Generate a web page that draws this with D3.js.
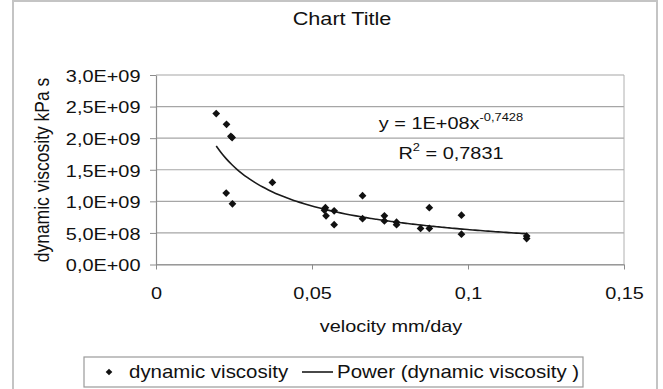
<!DOCTYPE html>
<html>
<head>
<meta charset="utf-8">
<script src="https://cdn.jsdelivr.net/npm/d3@7"></script>
<style>
body { margin: 0; background: #fff; }
text { font-family: "Liberation Sans", Arial, sans-serif; fill: #111; }
</style>
</head>
<body>
<div id="chart"></div>
<script>
// measured values (velocity mm/day, dynamic viscosity kPa s)
var velocity  = [0.0193, 0.0226, 0.0244, 0.0240, 0.0225, 0.0245, 0.0373, 0.0543, 0.0540, 0.0545,
                 0.0571, 0.0571, 0.0662, 0.0662, 0.0732, 0.0732, 0.0771, 0.0771, 0.0848, 0.0876,
                 0.0876, 0.0979, 0.0979, 0.1188, 0.1188];
var viscosity = [2.39e9, 2.22e9, 2.01e9, 2.03e9, 1.13e9, 0.96e9, 1.30e9, 0.90e9, 0.86e9, 0.77e9,
                 0.85e9, 0.63e9, 1.09e9, 0.725e9, 0.77e9, 0.69e9, 0.67e9, 0.63e9, 0.57e9, 0.90e9,
                 0.57e9, 0.78e9, 0.48e9, 0.45e9, 0.41e9];

// power trendline as printed on the chart
var trendCoef = 1e8, trendExp = -0.7428, trendR2 = "0,7831";

var xTicks = [0, 0.05, 0.1, 0.15];
var xTickLabels = ["0", "0,05", "0,1", "0,15"];
var yTicks = [0, 5e8, 1e9, 1.5e9, 2e9, 2.5e9, 3e9];
var yTickLabels = ["0,0E+00", "5,0E+08", "1,0E+09", "1,5E+09", "2,0E+09", "2,5E+09", "3,0E+09"];

var W = 663, H = 389;
var SX = 1.17; // the source picture is stretched sideways
var plot = {left: 156, right: 624, top: 75, bottom: 264.5};

var x = d3.scaleLinear().domain([0, 0.15]).range([plot.left, plot.right]);
var y = d3.scaleLinear().domain([0, 3e9]).range([plot.bottom, plot.top]);

var svg = d3.select("#chart").append("svg")
    .attr("width", W)
    .attr("height", H);

svg.append("rect")
    .attr("x", 13).attr("y", 1)
    .attr("width", 644).attr("height", 392)
    .attr("fill", "#fff")
    .attr("stroke", "#c4c4c4")
    .attr("stroke-width", 2);

function stext(x0, y0, str, size, anchor) {
  return svg.append("text")
      .attr("transform", "translate(" + x0 + "," + y0 + ") scale(" + SX + ",1)")
      .attr("font-size", size)
      .attr("text-anchor", anchor || "start")
      .text(str);
}

// title
stext(342, 25, "Chart Title", 18.5, "middle");

// gridlines
svg.append("g").selectAll("line")
    .data(yTicks)
  .enter().append("line")
    .attr("x1", plot.left).attr("x2", plot.right)
    .attr("y1", function(d) { return y(d); })
    .attr("y2", function(d) { return y(d); })
    .attr("stroke", "#a6a6a6")
    .attr("stroke-width", 1.2);

svg.append("line")
    .attr("x1", plot.right).attr("x2", plot.right)
    .attr("y1", plot.top).attr("y2", plot.bottom)
    .attr("stroke", "#b0b0b0");

var yAxis = d3.axisLeft(y)
    .tickValues(yTicks)
    .tickSize(6)
    .tickSizeOuter(0)
    .tickFormat(function(d, i) { return yTickLabels[i]; });

var gy = svg.append("g")
    .attr("transform", "translate(" + plot.left + ",0)")
    .call(yAxis);
gy.select(".domain").attr("stroke", "#8c8c8c").attr("stroke-width", 1.2);
gy.selectAll(".tick line").attr("stroke", "#8c8c8c");
gy.selectAll(".tick text")
    .attr("x", -15.5 / SX)
    .attr("dy", "0.37em")
    .attr("transform", "scale(" + SX + ",1)")
    .attr("font-size", 17)
    .attr("font-family", null)
    .attr("fill", "#111");

var xAxis = d3.axisBottom(x)
    .tickValues(xTicks)
    .tickSize(5)
    .tickSizeOuter(0)
    .tickFormat(function(d, i) { return xTickLabels[i]; });

var gx = svg.append("g")
    .attr("transform", "translate(0," + plot.bottom + ")")
    .call(xAxis);
gx.select(".domain").attr("stroke", "#8c8c8c").attr("stroke-width", 1.2);
gx.selectAll(".tick line").attr("stroke", "#8c8c8c");
gx.selectAll(".tick text")
    .attr("y", 34.5)
    .attr("dy", 0)
    .attr("transform", "scale(" + SX + ",1)")
    .attr("font-size", 17)
    .attr("font-family", null)
    .attr("fill", "#111");

// axis titles
stext(391, 332, "velocity mm/day", 17, "middle");
svg.append("text")
    .attr("transform", "translate(49,170) scale(" + SX + ",1) rotate(-90)")
    .attr("font-size", 17.5)
    .attr("text-anchor", "middle")
    .text("dynamic viscosity kPa s");

// power trendline, drawn from the printed equation over the data range
var vx = d3.extent(velocity);
var trendX = d3.range(0, 61).map(function(i) { return vx[0] + (vx[1] - vx[0]) * i / 60; });
var line = d3.line()
    .x(function(d) { return x(d); })
    .y(function(d) { return y(trendCoef * Math.pow(d, trendExp)); })
    .curve(d3.curveMonotoneX);

svg.append("path")
    .datum(trendX)
    .attr("d", line)
    .attr("fill", "none")
    .attr("stroke", "#1a1a1a")
    .attr("stroke-width", 1.6);

// points
var diamond = d3.symbol().type(d3.symbolSquare).size(30);
svg.append("g").selectAll("path")
    .data(velocity)
  .enter().append("path")
    .attr("d", diamond)
    .attr("transform", function(d, i) {
      return "translate(" + x(d) + "," + y(viscosity[i]) + ") rotate(45)";
    })
    .attr("fill", "#111");

// equation labels
var eq = stext(451, 128.5, "", 17, "middle");
eq.append("tspan").text("y = 1E+08x");
eq.append("tspan").attr("font-size", 11).attr("dy", -8).text("-0,7428");

var r2 = stext(451, 159, "", 17, "middle");
r2.append("tspan").text("R");
r2.append("tspan").attr("font-size", 11).attr("dy", -8).text("2");
r2.append("tspan").attr("dy", 8).text(" = " + trendR2);

// legend
svg.append("rect")
    .attr("x", 84).attr("y", 357)
    .attr("width", 499).attr("height", 30)
    .attr("fill", "#fff")
    .attr("stroke", "#9a9a9a")
    .attr("stroke-width", 1.2);

svg.append("path")
    .attr("d", d3.symbol().type(d3.symbolSquare).size(22))
    .attr("transform", "translate(109,372) rotate(45)")
    .attr("fill", "#111");
stext(129, 378, "dynamic viscosity", 17.5);

svg.append("line")
    .attr("x1", 302).attr("x2", 333)
    .attr("y1", 372).attr("y2", 372)
    .attr("stroke", "#1a1a1a")
    .attr("stroke-width", 1.6);
stext(337, 378, "Power (dynamic viscosity )", 17.5);
</script>
</body>
</html>
